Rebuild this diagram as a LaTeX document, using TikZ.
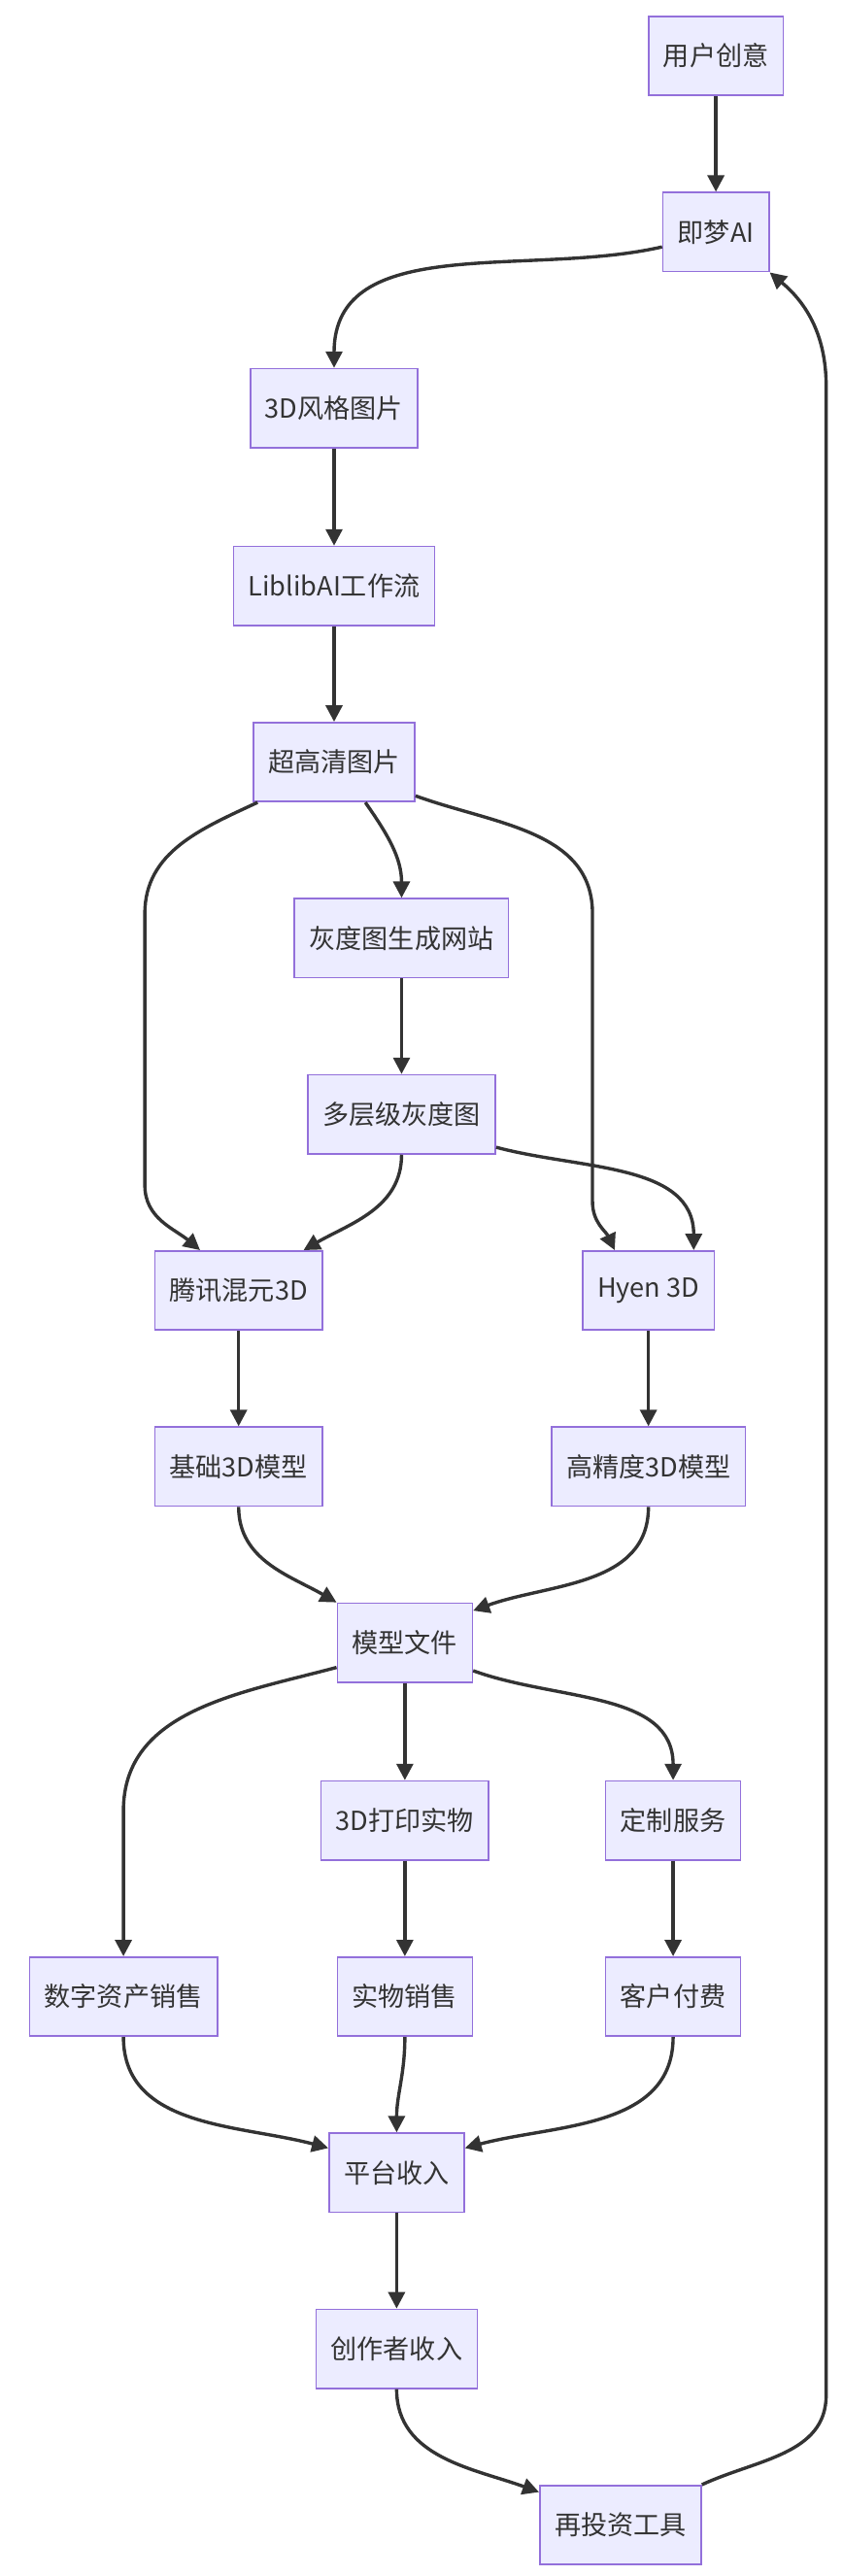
\documentclass[tikz,border=0pt]{standalone}
\usepackage{fontspec}
\setmainfont{Noto Sans CJK SC}
\usetikzlibrary{calc,arrows.meta}
\begin{document}
\begin{tikzpicture}[x=1pt,y=-1pt,
  box/.style={draw=violet!60!white,draw={rgb,255:red,147;green,112;blue,219},fill={rgb,255:red,236;green,236;blue,255},line width=1pt,minimum height=48pt,inner xsep=9pt,font=\fontsize{16}{18}\selectfont,text={rgb,255:red,51;green,51;blue,51}},
  ar/.style={draw={rgb,255:red,51;green,51;blue,51},line width=2pt,-{Triangle[length=10pt,width=10pt]}}]
\useasboundingbox (0,0) rectangle (512,1565);
\node[box] (u) at (435,34) {用户创意};
\node[box] (j) at (435,141) {即梦AI};
\node[box] (s) at (203,248) {3D风格图片};
\node[box] (l) at (203,356) {LiblibAI工作流};
\node[box] (c) at (203,463) {超高清图片};
\node[box] (g) at (244,570) {灰度图生成网站};
\node[box] (m) at (244,677) {多层级灰度图};
\node[box] (t) at (145,784) {腾讯混元3D};
\node[box] (h) at (394,784) {Hyen 3D};
\node[box] (b) at (145,891) {基础3D模型};
\node[box] (p) at (394,891) {高精度3D模型};
\node[box] (f) at (246,998) {模型文件};
\node[box] (d) at (246,1106) {3D打印实物};
\node[box] (z) at (409,1106) {定制服务};
\node[box] (n) at (75,1213) {数字资产销售};
\node[box] (w) at (246,1213) {实物销售};
\node[box] (k) at (409,1213) {客户付费};
\node[box] (r) at (241,1320) {平台收入};
\node[box] (cr) at (241,1427) {创作者收入};
\node[box] (e) at (377,1534) {再投资工具};
\draw[ar] (u) -- (j);
\draw[ar] ($(j.west)+(0,9)$) to[out=193,in=90] (s.north);
\draw[ar] (s) -- (l);
\draw[ar] (l) -- (c);
\draw[ar] ($(c.south west)+(3,0)$) to[out=205,in=90] (88,555) -- (88,720) to[out=-90,in=140] ($(t.north west)+(28,0)$);
\draw[ar] ($(c.south)+(19,0)$) to[out=-55,in=90] (g.north);
\draw[ar] ($(c.south east)+(0,-4)$) to[out=-20,in=90] (360,555) -- (360,730) to[out=-90,in=115] ($(h.north west)+(20,0)$);
\draw[ar] (g) -- (m);
\draw[ar] (m.south) to[out=-90,in=30] ($(t.north east)+(-12,0)$);
\draw[ar] ($(m.east)+(0,20)$) to[out=-15,in=90] ($(h.north east)+(-13,0)$);
\draw[ar] (t) -- (b);
\draw[ar] (h) -- (p);
\draw[ar] (b.south) to[out=-90,in=150] (f.north west);
\draw[ar] (p.south) to[out=-90,in=20] ($(f.north east)+(0,5)$);
\draw[ar] ($(f.west)+(0,15)$) to[out=195,in=90] (75,1100) -- (n.north);
\draw[ar] (f) -- (d);
\draw[ar] ($(f.east)+(0,17)$) to[out=-20,in=90] (z.north);
\draw[ar] (d) -- (w);
\draw[ar] (z) -- (k);
\draw[ar] (n.south) to[out=-90,in=165] ($(r.west)+(0,-15)$);
\draw[ar] (w.south) to[out=-90,in=90] (r.north);
\draw[ar] (k.south) to[out=-90,in=15] ($(r.east)+(0,-15)$);
\draw[ar] (r) -- (cr);
\draw[ar] (cr.south) to[out=-90,in=160] ($(e.west)+(0,-20)$);
\draw[ar] (e.north east) to[out=25,in=-90] (502,1455) -- (502,235) to[out=90,in=-40] (j.south east);
\end{tikzpicture}
\end{document}
